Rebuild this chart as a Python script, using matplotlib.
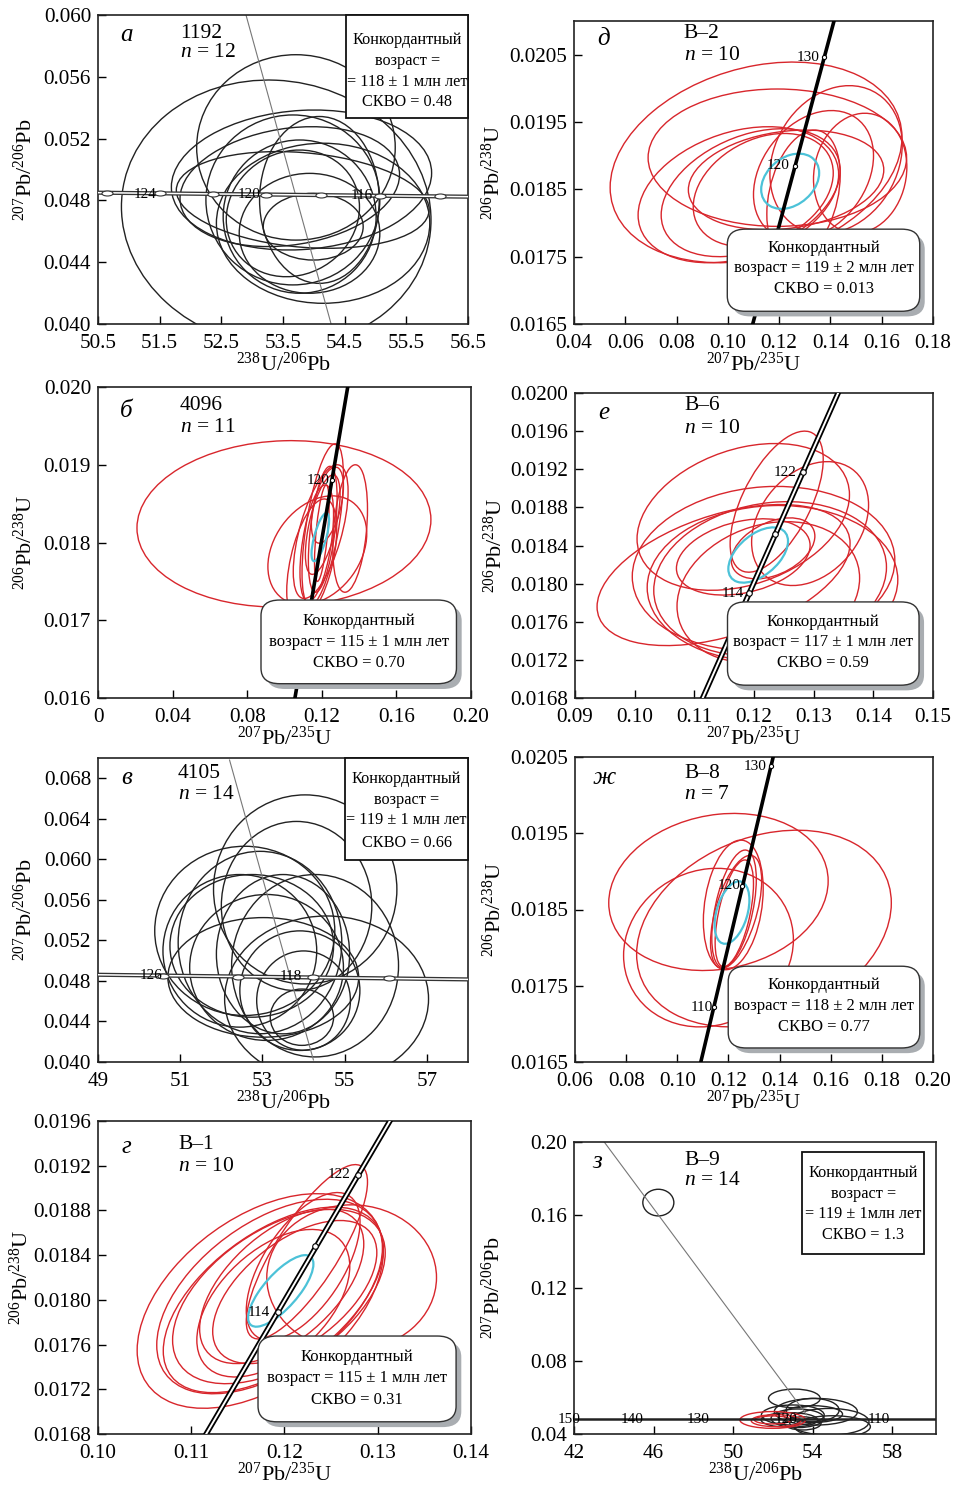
import numpy as np
import matplotlib
matplotlib.use("Agg")
import matplotlib.pyplot as plt
from matplotlib.patches import Circle, FancyBboxPatch, Rectangle
from matplotlib.transforms import Affine2D
from matplotlib.path import Path

plt.rcParams["font.family"] = ["Liberation Serif", "DejaVu Serif"]
plt.rcParams["mathtext.fontset"] = "custom"
plt.rcParams["mathtext.rm"] = "Liberation Serif"
plt.rcParams["mathtext.it"] = "Liberation Serif:italic"
plt.rcParams["mathtext.bf"] = "Liberation Serif:bold"

RED = "#d8262c"
CYAN = "#4cc2d8"
BLACK = "#222222"

# error ellipses: (centre x, centre y, half-width x, half-width y, correlation)
ELL_A = [(53.39, 0.04716, 2.51, 0.00863, -0.05), (53.71, 0.05143, 1.61, 0.00600, 0.0),
         (53.80, 0.04932, 2.11, 0.00453, 0.1), (53.82, 0.04803, 2.05, 0.00313, -0.2),
         (53.66, 0.04803, 1.41, 0.00550, 0.0), (53.77, 0.04695, 1.24, 0.00496, 0.0),
         (53.66, 0.04716, 1.08, 0.00410, 0.1), (53.93, 0.04587, 1.14, 0.00388, 0.0),
         (54.15, 0.04652, 1.73, 0.00518, 0.0), (54.09, 0.04803, 0.97, 0.00540, 0.0),
         (53.99, 0.04630, 0.81, 0.00216, 0.0), (53.61, 0.04889, 1.78, 0.00388, 0.2)]
ELL_V = [(54.04, 0.05703, 2.23, 0.00933, 0.0), (53.83, 0.05539, 1.83, 0.00835, 0.0),
         (52.57, 0.05294, 2.19, 0.00835, 0.0), (52.74, 0.05146, 1.99, 0.00704, 0.0),
         (52.94, 0.05179, 1.99, 0.00900, 0.0), (53.02, 0.04835, 2.32, 0.00590, 0.0),
         (54.56, 0.04622, 2.48, 0.00819, 0.0), (54.28, 0.04950, 2.03, 0.00900, 0.0),
         (53.96, 0.04442, 0.77, 0.00278, 0.0), (54.00, 0.04606, 1.14, 0.00490, 0.0),
         (53.10, 0.04933, 1.87, 0.00720, 0.0), (52.45, 0.05097, 1.87, 0.00753, 0.0),
         (53.91, 0.04704, 1.46, 0.00590, 0.0), (53.50, 0.05064, 1.62, 0.00786, 0.0)]
ELL_B = [(0.0997, 0.01824, 0.0788, 0.00107, 0.05), (0.1205, 0.01823, 0.0111, 0.00104, 0.6),
         (0.1205, 0.01817, 0.0077, 0.00081, 0.5), (0.1194, 0.01814, 0.0147, 0.00086, 0.6),
         (0.1176, 0.01790, 0.0265, 0.00070, 0.3), (0.1146, 0.01777, 0.0134, 0.00079, 0.5),
         (0.1205, 0.01823, 0.0093, 0.00064, 0.6), (0.1230, 0.01848, 0.0086, 0.00049, 0.5),
         (0.1173, 0.01799, 0.0090, 0.00075, 0.5), (0.1352, 0.01818, 0.0093, 0.00082, 0.3),
         (0.1200, 0.01812, 0.0039, 0.00062, 0.6)]
CYAN_B = (0.1192, 0.01807, 0.0047, 0.00031, 0.7)
ELL_D = [(0.1110, 0.01890, 0.0569, 0.00149, 0.25), (0.1193, 0.01897, 0.0504, 0.00102, 0.0),
         (0.1041, 0.01842, 0.0391, 0.00101, 0.3), (0.1089, 0.01845, 0.0349, 0.00095, 0.35),
         (0.1227, 0.01864, 0.0381, 0.00074, 0.2), (0.1138, 0.01849, 0.0273, 0.00084, 0.3),
         (0.1334, 0.01871, 0.0234, 0.00096, 0.3), (0.1422, 0.01894, 0.0258, 0.00110, 0.2),
         (0.1516, 0.01874, 0.0182, 0.00089, 0.1), (0.1295, 0.01842, 0.0143, 0.00096, 0.3)]
CYAN_D = (0.1243, 0.01862, 0.0113, 0.00041, 0.3)
ELL_E = [(0.1182, 0.01870, 0.0178, 0.00077, 0.3), (0.1149, 0.01809, 0.0212, 0.00074, 0.45),
         (0.1216, 0.01816, 0.0220, 0.00086, 0.1), (0.1231, 0.01800, 0.0210, 0.00082, 0.05),
         (0.1227, 0.01805, 0.0195, 0.00081, 0.15), (0.1224, 0.01791, 0.0153, 0.00074, 0.2),
         (0.1238, 0.01886, 0.0078, 0.00074, 0.6), (0.1294, 0.01863, 0.0098, 0.00065, 0.3),
         (0.1182, 0.01828, 0.0112, 0.00040, 0.3), (0.1232, 0.01837, 0.0070, 0.00032, 0.4)]
CYAN_E = (0.1207, 0.01830, 0.0050, 0.00029, 0.5)
ELL_ZH = [(0.1161, 0.01873, 0.0429, 0.00103, 0.14), (0.1339, 0.01825, 0.0498, 0.00129, 0.26),
          (0.1122, 0.01800, 0.0332, 0.00104, 0.1), (0.1219, 0.01856, 0.0117, 0.00085, 0.25),
          (0.1222, 0.01851, 0.0087, 0.00077, 0.5), (0.1230, 0.01847, 0.0100, 0.00074, 0.55),
          (0.1223, 0.01845, 0.0075, 0.00070, 0.55)]
CYAN_ZH = (0.1214, 0.01846, 0.0068, 0.00041, 0.4)
ELL_G = [(0.1174, 0.01799, 0.0132, 0.00096, 0.46), (0.1184, 0.01803, 0.0121, 0.00087, 0.5),
         (0.1188, 0.01800, 0.0118, 0.00083, 0.55), (0.1194, 0.01803, 0.0114, 0.00078, 0.5),
         (0.1197, 0.01812, 0.0088, 0.00069, 0.55), (0.1224, 0.01843, 0.0065, 0.00078, 0.8),
         (0.1220, 0.01830, 0.0061, 0.00066, 0.6), (0.1272, 0.01820, 0.0091, 0.00065, 0.0),
         (0.1188, 0.01797, 0.0082, 0.00066, 0.5), (0.1211, 0.01807, 0.0088, 0.00064, 0.55)]
CYAN_G = (0.1196, 0.01808, 0.0035, 0.00032, 0.75)
ELL_Z = [(46.24, 0.1668, 0.78, 0.0073, 0.0), (53.08, 0.0595, 1.30, 0.0051, 0.0),
         (54.16, 0.0522, 2.09, 0.0073, 0.0), (54.00, 0.0509, 1.50, 0.0046, 0.0),
         (53.24, 0.0486, 1.33, 0.0051, 0.0), (52.83, 0.0477, 1.42, 0.0040, 0.0),
         (54.83, 0.0467, 2.00, 0.0073, 0.0), (54.00, 0.0531, 1.33, 0.0064, 0.0),
         (53.50, 0.0458, 0.92, 0.0036, 0.0), (53.00, 0.0504, 1.58, 0.0055, 0.0),
         (55.00, 0.0440, 1.90, 0.0060, 0.0)]
ELL_Z_RED = [(51.99, 0.0477, 1.65, 0.0046, 0.0), (52.16, 0.0473, 1.25, 0.0033, 0.0),
             (51.99, 0.0477, 0.92, 0.0022, 0.0)]

# concordia / discordia end points
CONC_A = ([50.5, 56.5], [0.04850, 0.04824])
DISC_A = ([52.90, 54.28], [0.060, 0.040])
CONC_V = ([49.0, 58.0], [0.04861, 0.04815])
DISC_V = ([52.20, 54.24], [0.0698, 0.0402])
CONC_B = ([0.1056, 0.1339], [0.016, 0.020])
CONC_D = ([0.1097, 0.1414], [0.0165, 0.0210])
CONC_E = ([0.1114, 0.1341], [0.0168, 0.0200])
CONC_ZH = ([0.1092, 0.1375], [0.0165, 0.0205])
CONC_G = ([0.1116, 0.1313], [0.0168, 0.0196])
CONC_Z = ([42.0, 60.2], [0.0480, 0.0480])
DISC_Z = ([43.52, 53.70], [0.20, 0.0505])

# age marks on the concordia
MARK_A = ([50.64, 51.50, 52.36, 53.23, 54.12, 55.07, 56.04],
          [0.04849, 0.04846, 0.04842, 0.04838, 0.04834, 0.04830, 0.04826])
MARK_V = ([50.58, 52.41, 54.24, 56.07], [0.04853, 0.04843, 0.04834, 0.04825])
MARK_B = ([0.1254], [0.0188])
MARK_D = ([0.1375, 0.1262], [0.02046, 0.01885])
MARK_E = ([0.1282, 0.1235, 0.1192], [0.01917, 0.01852, 0.0179])
MARK_ZH = ([0.1367, 0.1255, 0.1143], [0.02038, 0.01881, 0.01722])
MARK_G = ([0.1279, 0.1233, 0.1193], [0.01912, 0.01848, 0.01789])

AGE_A = ([51.26, 52.95, 54.78], [0.0484, 0.0484, 0.0483], ["124", "120", "116"])
AGE_V = ([50.30, 53.70], [0.0485, 0.0484], ["126", "118"])
AGE_B = ([0.1182], [0.0188], ["120"])
AGE_D = ([0.1314, 0.1197], [0.02046, 0.01885], ["130", "120"])
AGE_E = ([0.1252, 0.1165], [0.01917, 0.0179], ["122", "114"])
AGE_ZH = ([0.1304, 0.1204, 0.1096], [0.02038, 0.01881, 0.01722], ["130", "120", "110"])
AGE_G = ([0.1259, 0.1172], [0.01912, 0.01789], ["122", "114"])
AGE_Z = ([41.75, 44.9, 48.24, 52.66, 57.33], [0.048] * 5, ["150", "140", "130", "120", "110"])

TW_X = r"$^{238}$U/$^{206}$Pb"
TW_Y = r"$^{207}$Pb/$^{206}$Pb"
WE_X = r"$^{207}$Pb/$^{235}$U"
WE_Y = r"$^{206}$Pb/$^{238}$U"

W, H = 957, 1487
fig = plt.figure(figsize=(W / 100, H / 100), dpi=100)


def new_ax(x0, y0, x1, y1):
    return fig.add_axes([x0 / W, 1 - y1 / H, (x1 - x0) / W, (y1 - y0) / H])


def ellipse(ax, e, color, lw=1.0, z=2):
    cx, cy, sx, sy, rho = e
    m = np.array([[sx, 0, cx], [sy * rho, sy * np.sqrt(1 - rho ** 2), cy], [0, 0, 1]])
    ax.add_patch(Circle((0, 0), 1, fill=False, ec=color, lw=lw, zorder=z,
                        transform=Affine2D(m) + ax.transData))


def setup(ax, xlim, ylim, xt, xtl, yt, ytl, xlabel, ylabel, ypad=5):
    ax.set_xlim(*xlim)
    ax.set_ylim(*ylim)
    ax.set_xticks(xt)
    ax.set_xticklabels(xtl)
    ax.set_yticks(yt)
    ax.set_yticklabels(ytl)
    ax.tick_params(direction="in", length=5.8, width=1, labelsize=15.2)
    ax.tick_params(axis="x", pad=7)
    ax.tick_params(axis="y", pad=5)
    ax.set_xlabel(xlabel, fontsize=16, labelpad=0)
    ax.set_ylabel(ylabel, fontsize=16, labelpad=ypad)
    for s in ax.spines.values():
        s.set_linewidth(1.2)
        s.set_color("#222")


def titles(ax, letter, lx, ly, name, n, tx, ty1, ty2):
    ax.text(lx, ly, letter, transform=ax.transAxes, fontsize=18, style="italic",
            ha="center", va="center")
    ax.text(tx, ty1, name, transform=ax.transAxes, fontsize=15.5, va="center")
    ax.text(tx, ty2, r"$n$ = " + n, transform=ax.transAxes, fontsize=15.5, va="center")


def square_box(ax, x0, y0, x1, y1, lines, ys):
    ax.add_patch(Rectangle((x0, y0), x1 - x0, y1 - y0, transform=ax.transAxes, fc="white",
                           ec="#111", lw=1.3, zorder=6, clip_on=False))
    for t, y in zip(lines, ys):
        ax.text((x0 + x1) / 2, y, t, transform=ax.transAxes, fontsize=11.7, ha="center",
                va="center", zorder=7)


def round_box(ax, x0, y0, x1, y1, lines, ys):
    st = "round,pad=0,rounding_size=0.05"
    ax.add_patch(FancyBboxPatch((x0 + 0.014, y0 - 0.017), x1 - x0, y1 - y0, boxstyle=st,
                                transform=ax.transAxes, fc="#a9adb1", ec="none", zorder=5,
                                clip_on=False))
    ax.add_patch(FancyBboxPatch((x0, y0), x1 - x0, y1 - y0, boxstyle=st, transform=ax.transAxes,
                                fc="white", ec="#333", lw=1.0, zorder=6, clip_on=False))
    for t, y in zip(lines, ys):
        ax.text((x0 + x1) / 2, y, t, transform=ax.transAxes, fontsize=12, ha="center",
                va="center", zorder=7)


def ages(ax, lab, fs=11, clip=True):
    for x, y, t in zip(*lab):
        ax.text(x, y, t, fontsize=fs, ha="center", va="center", zorder=4, clip_on=clip)


flat = Path(Path.unit_circle().vertices * [1, 0.45], Path.unit_circle().codes)

def tw_concordia(ax, conc, marks):
    ax.plot(*conc, color="#333", lw=3.0, zorder=3, solid_capstyle="butt")
    ax.plot(*conc, color="white", lw=1.1, zorder=3, solid_capstyle="butt")
    ax.plot(*marks, ls="none", marker=flat, ms=8, mfc="white", mec="#333", mew=0.8, zorder=3)


def single_concordia(ax, conc, marks):
    ax.plot(*conc, color="black", lw=2.6, zorder=3)
    ax.plot(*marks, ls="none", marker="o", ms=3, mfc="white", mec="black", mew=0.8, zorder=3)


def double_concordia(ax, conc, marks):
    ax.plot(*conc, color="black", lw=4.0, zorder=3)
    ax.plot(*conc, color="white", lw=1.4, zorder=3)
    ax.plot(*marks, ls="none", marker="o", ms=4, mfc="white", mec="black", mew=0.8, zorder=3)


# ---- а ----
ax = new_ax(98, 15, 468, 324)
setup(ax, (50.5, 56.5), (0.040, 0.060), np.arange(50.5, 56.6, 1.0),
      ["50.5", "51.5", "52.5", "53.5", "54.5", "55.5", "56.5"],
      np.arange(0.040, 0.0601, 0.004), ["0.040", "0.044", "0.048", "0.052", "0.056", "0.060"],
      TW_X, TW_Y)
for e in ELL_A:
    ellipse(ax, e, BLACK)
ax.plot(*DISC_A, color="#777", lw=0.8, zorder=2)
tw_concordia(ax, CONC_A, MARK_A)
ages(ax, AGE_A)
titles(ax, "а", 0.077, 0.935, "1192", "12", 0.222, 0.94, 0.88)
square_box(ax, 0.671, 0.666, 1.0, 1.0,
           ["Конкордантный", "возраст =", "= 118 ± 1 млн лет", "СКВО = 0.48"],
           [0.919, 0.851, 0.784, 0.719])

# ---- д ----
ax = new_ax(574, 21, 933, 324)
setup(ax, (0.04, 0.18), (0.0165, 0.0210), np.arange(0.04, 0.181, 0.02),
      ["0.04", "0.06", "0.08", "0.10", "0.12", "0.14", "0.16", "0.18"],
      np.arange(0.0165, 0.02051, 0.001), ["0.0165", "0.0175", "0.0185", "0.0195", "0.0205"],
      WE_X, WE_Y, ypad=3)
for e in ELL_D:
    ellipse(ax, e, RED)
ellipse(ax, CYAN_D, CYAN, 1.6)
single_concordia(ax, CONC_D, MARK_D)
ages(ax, AGE_D)
titles(ax, "д", 0.081, 0.942, "В–2", "10", 0.306, 0.958, 0.887)
round_box(ax, 0.427, 0.042, 0.963, 0.313,
          ["Конкордантный", "возраст = 119 ± 2 млн лет", "СКВО = 0.013"], [0.250, 0.184, 0.115])

# ---- б ----
ax = new_ax(98, 387, 471, 698)
setup(ax, (0.0, 0.20), (0.016, 0.020), np.arange(0.0, 0.201, 0.04),
      ["0", "0.04", "0.08", "0.12", "0.16", "0.20"],
      np.arange(0.016, 0.0201, 0.001), ["0.016", "0.017", "0.018", "0.019", "0.020"],
      WE_X, WE_Y)
for e in ELL_B:
    ellipse(ax, e, RED)
ellipse(ax, CYAN_B, CYAN, 1.6)
single_concordia(ax, CONC_B, MARK_B)
ages(ax, AGE_B)
titles(ax, "б", 0.076, 0.922, "4096", "11", 0.219, 0.94, 0.87)
round_box(ax, 0.437, 0.046, 0.961, 0.315,
          ["Конкордантный", "возраст = 115 ± 1 млн лет", "СКВО = 0.70"], [0.247, 0.180, 0.114])

# ---- е ----
ax = new_ax(575, 393, 933, 698)
setup(ax, (0.09, 0.15), (0.0168, 0.0200), np.arange(0.09, 0.1501, 0.01),
      ["0.09", "0.10", "0.11", "0.12", "0.13", "0.14", "0.15"],
      np.arange(0.0168, 0.02001, 0.0004),
      ["0.0168", "0.0172", "0.0176", "0.0180", "0.0184", "0.0188", "0.0192", "0.0196", "0.0200"],
      WE_X, WE_Y, ypad=2)
for e in ELL_E:
    ellipse(ax, e, RED)
ellipse(ax, CYAN_E, CYAN, 1.6)
double_concordia(ax, CONC_E, MARK_E)
ages(ax, AGE_E)
titles(ax, "е", 0.08, 0.934, "В–6", "10", 0.305, 0.959, 0.885)
round_box(ax, 0.426, 0.042, 0.961, 0.315,
          ["Конкордантный", "возраст = 117 ± 1 млн лет", "СКВО = 0.59"], [0.250, 0.184, 0.116])

# ---- в ----
ax = new_ax(98, 758, 468, 1062)
setup(ax, (49, 58), (0.040, 0.070), [49, 51, 53, 55, 57], ["49", "51", "53", "55", "57"],
      np.arange(0.040, 0.0681, 0.004),
      ["0.040", "0.044", "0.048", "0.052", "0.056", "0.060", "0.064", "0.068"],
      TW_X, TW_Y)
for e in ELL_V:
    ellipse(ax, e, BLACK)
ax.plot(*DISC_V, color="#777", lw=0.8, zorder=2)
tw_concordia(ax, CONC_V, MARK_V)
ages(ax, AGE_V)
titles(ax, "в", 0.077, 0.934, "4105", "14", 0.216, 0.95, 0.879)
square_box(ax, 0.668, 0.665, 1.0, 1.0,
           ["Конкордантный", "возраст =", "= 119 ± 1 млн лет", "СКВО = 0.66"],
           [0.931, 0.863, 0.795, 0.722])

# ---- ж ----
ax = new_ax(575, 757, 933, 1062)
setup(ax, (0.06, 0.20), (0.0165, 0.0205), np.arange(0.06, 0.201, 0.02),
      ["0.06", "0.08", "0.10", "0.12", "0.14", "0.16", "0.18", "0.20"],
      np.arange(0.0165, 0.02051, 0.001), ["0.0165", "0.0175", "0.0185", "0.0195", "0.0205"],
      WE_X, WE_Y, ypad=3)
for e in ELL_ZH:
    ellipse(ax, e, RED)
ellipse(ax, CYAN_ZH, CYAN, 1.6)
single_concordia(ax, CONC_ZH, MARK_ZH)
ages(ax, AGE_ZH)
titles(ax, "ж", 0.08, 0.931, "В–8", "7", 0.305, 0.947, 0.878)
round_box(ax, 0.428, 0.046, 0.963, 0.314,
          ["Конкордантный", "возраст = 118 ± 2 млн лет", "СКВО = 0.77"], [0.252, 0.184, 0.115])

# ---- г ----
ax = new_ax(98, 1121, 471, 1434)
setup(ax, (0.10, 0.14), (0.0168, 0.0196), np.arange(0.10, 0.1401, 0.01),
      ["0.10", "0.11", "0.12", "0.13", "0.14"],
      np.arange(0.0168, 0.01961, 0.0004),
      ["0.0168", "0.0172", "0.0176", "0.0180", "0.0184", "0.0188", "0.0192", "0.0196"],
      WE_X, WE_Y, ypad=0)
for e in ELL_G:
    ellipse(ax, e, RED)
ellipse(ax, CYAN_G, CYAN, 1.6)
double_concordia(ax, CONC_G, MARK_G)
ages(ax, AGE_G)
titles(ax, "г", 0.076, 0.918, "В–1", "10", 0.215, 0.925, 0.854)
round_box(ax, 0.429, 0.039, 0.960, 0.313,
          ["Конкордантный", "возраст = 115 ± 1 млн лет", "СКВО = 0.31"], [0.245, 0.178, 0.109])

# ---- з ----
ax = new_ax(574, 1142, 936, 1434)
setup(ax, (42, 60.2), (0.04, 0.20), [42, 46, 50, 54, 58], ["42", "46", "50", "54", "58"],
      [0.04, 0.08, 0.12, 0.16, 0.20], ["0.04", "0.08", "0.12", "0.16", "0.20"],
      TW_X, TW_Y, ypad=18)
for e in ELL_Z:
    ellipse(ax, e, BLACK)
for e in ELL_Z_RED:
    ellipse(ax, e, RED)
ax.plot(*DISC_Z, color="#777", lw=0.8, zorder=2)
ax.plot(*CONC_Z, color="#222", lw=1.8, zorder=3)
ages(ax, AGE_Z, clip=False)
titles(ax, "з", 0.064, 0.932, "В–9", "14", 0.305, 0.937, 0.867)
square_box(ax, 0.630, 0.615, 0.968, 0.966,
           ["Конкордантный", "возраст =", "= 119 ± 1млн лет", "СКВО = 1.3"],
           [0.894, 0.823, 0.753, 0.681])

fig.savefig("out.png", dpi=100)
